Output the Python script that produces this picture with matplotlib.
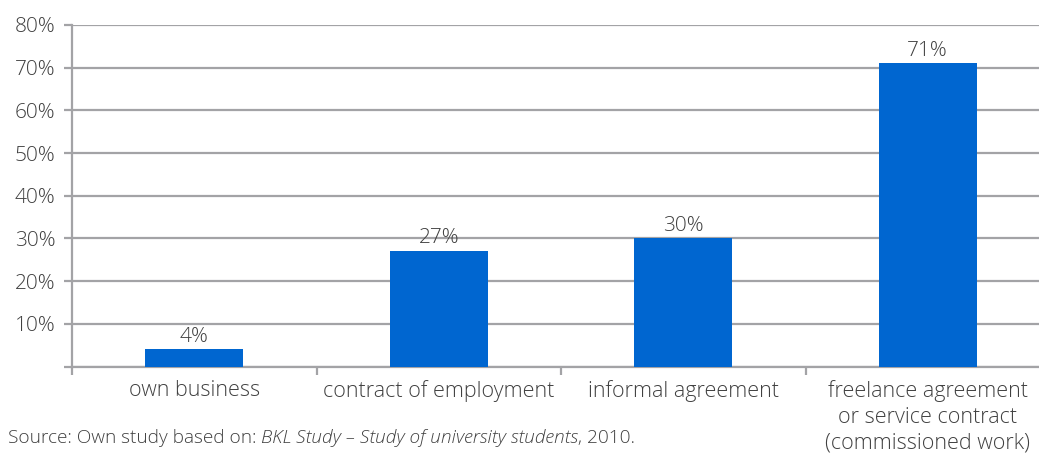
import matplotlib
matplotlib.use("Agg")
import matplotlib.pyplot as plt

plt.rcParams['font.family'] = ['Open Sans', 'DejaVu Sans']
plt.rcParams['font.weight'] = 300

categories = ["own business", "contract of employment", "informal agreement",
              "freelance agreement\nor service contract\n(commissioned work)"]
values = [4, 27, 30, 71]
yticks = [0, 10, 20, 30, 40, 50, 60, 70, 80]
ytick_labels = ["", "10%", "20%", "30%", "40%", "50%", "60%", "70%", "80%"]
source_parts = [("Source: Own study based on: ", "normal"),
                ("BKL Study \u2013 Study of university students", "italic"),
                (", 2010.", "normal")]

bar_color = "#0066D0"
grid_color = "#A3A3A6"
text_color = "#404040"

W, H = 1039, 454
fig = plt.figure(figsize=(W / 100, H / 100), dpi=100)
left, right, bottom, top = 72, 1050, 366.5, 25
ax = fig.add_axes([left / W, 1 - bottom / H, (right - left) / W, (bottom - top) / H])

x = range(len(categories))
ax.bar(x, values, width=0.4, color=bar_color, zorder=3)
for xi, v in zip(x, values):
    ax.annotate(f"{v}%", (xi, v), xytext=(0, 2), textcoords="offset points",
                ha="center", va="bottom", fontsize=15, color=text_color, zorder=4)

ax.set_xlim(-0.5, len(categories) - 0.5)
ax.set_ylim(0, 80)
ax.set_yticks(yticks)
ax.set_yticklabels(ytick_labels)
ax.yaxis.grid(True, color=grid_color, linewidth=1.6, zorder=0)

ax.set_xticks(list(x))
ax.set_xticklabels(categories, fontsize=15.5, color=text_color, linespacing=1.29, va="top")
ax.tick_params(axis="x", which="major", length=0, pad=10)
ax.set_xticks([i - 0.5 for i in range(len(categories) + 1)], minor=True)
ax.tick_params(axis="x", which="minor", length=6, width=1.6, color=grid_color, direction="out")
ax.tick_params(axis="y", length=6, width=1.6, color=grid_color, labelsize=15,
               labelcolor=text_color, pad=6)

for s in ["top", "right"]:
    ax.spines[s].set_visible(False)
for s in ["left", "bottom"]:
    ax.spines[s].set_color(grid_color)
    ax.spines[s].set_linewidth(1.6)

# Source line built from normal and italic pieces placed one after another
fig.canvas.draw()
renderer = fig.canvas.get_renderer()
xpos = 8
for txt, style in source_parts:
    t = fig.text(xpos / W, 1 - 438 / H, txt, fontsize=13.7, style=style,
                 color=text_color, ha="left", va="center")
    bb = t.get_window_extent(renderer=renderer)
    xpos = bb.x1

fig.savefig("out.png", dpi=100)
